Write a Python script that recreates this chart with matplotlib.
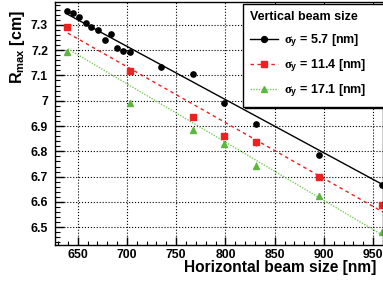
import matplotlib
matplotlib.use("Agg")
import matplotlib.pyplot as plt
from matplotlib.lines import Line2D
from matplotlib.ticker import MultipleLocator

plt.rcParams["font.family"] = ["Liberation Sans", "DejaVu Sans"]
plt.rcParams["font.weight"] = "bold"
plt.rcParams["mathtext.fontset"] = "custom"
plt.rcParams["mathtext.rm"] = "Liberation Sans:bold"
plt.rcParams["mathtext.bf"] = "Liberation Sans:bold"
plt.rcParams["mathtext.it"] = "Liberation Serif"

# horizontal beam size [nm] and R_max [cm]
x_black = [639, 645, 651, 658, 664, 671, 678, 684, 690, 696, 703, 735, 767, 799, 831, 895, 958.5]
y_black = [7.353, 7.346, 7.329, 7.309, 7.293, 7.280, 7.238, 7.262, 7.210, 7.197, 7.191,
           7.133, 7.104, 6.991, 6.909, 6.786, 6.668]
x_col = [639, 703, 767, 799, 831, 895, 958.5]
y_red = [7.291, 7.119, 6.934, 6.861, 6.835, 6.698, 6.589]
y_green = [7.192, 6.991, 6.885, 6.830, 6.744, 6.625, 6.481]
err_black = 0.005
err_red = 0.012
err_green = 0.012

# fitted lines
fit_x = [640, 960]
fit_black = [7.341, 6.668]
fit_red = [7.267, 6.560]
fit_green = [7.205, 6.468]

labels = [r"$\sigma_{\mathbf{y}}$ = 5.7 [nm]",
          r"$\sigma_{\mathbf{y}}$ = 11.4 [nm]",
          r"$\sigma_{\mathbf{y}}$ = 17.1 [nm]"]

RED = "#ee2020"
GREEN = "#5cb83c"
GREEN_LINE = "#7ccc5c"

fig = plt.figure(figsize=(3.83, 2.81), dpi=100)
ax = fig.add_axes([55 / 383, 1 - 245 / 281, 1 - 55 / 383, 243 / 281])

ax.plot(fit_x, fit_black, color="black", lw=1.0)
ax.plot(fit_x, fit_red, color=RED, lw=1.0, ls=(0, (2.5, 2.5)))
ax.plot(fit_x, fit_green, color=GREEN_LINE, lw=1.0, ls=(0, (1, 1)))

ax.errorbar(x_black, y_black, yerr=err_black, fmt="o", color="black", ms=3.8, elinewidth=0.8, capsize=0)
ax.errorbar(x_col, y_red, yerr=err_red, fmt="s", color=RED, ms=3.8, elinewidth=0.8, capsize=0)
ax.errorbar(x_col, y_green, yerr=err_green, fmt="^", color=GREEN, ms=3.8, elinewidth=0.8, capsize=0)

ax.set_xlim(627, 960)
ax.set_ylim(6.43, 7.39)
ax.xaxis.set_major_locator(MultipleLocator(50))
ax.xaxis.set_minor_locator(MultipleLocator(10))
ax.yaxis.set_minor_locator(MultipleLocator(0.02))
ax.set_yticks([6.5, 6.6, 6.7, 6.8, 6.9, 7.0, 7.1, 7.2, 7.3])
ax.set_yticklabels(["6.5", "6.6", "6.7", "6.8", "6.9", "7", "7.1", "7.2", "7.3"])
ax.tick_params(which="both", direction="in", top=False, right=False, labelsize=8.8)
ax.tick_params(axis="y", which="major", length=6.5, width=1.0, pad=5)
ax.tick_params(axis="y", which="minor", length=3.6, width=0.8)
ax.tick_params(axis="x", which="major", length=5.5, width=1.0, pad=3)
ax.tick_params(axis="x", which="minor", length=3.0, width=0.8)
ax.grid(True, which="major", color="black", ls=":", lw=0.8)
for s in ax.spines.values():
    s.set_linewidth(1.0)

ax.set_xlabel("Horizontal beam size [nm]", fontsize=11.2, fontweight="bold", loc="right")
ax.xaxis.set_label_coords(0.981, -0.063)
ax.set_ylabel(r"R$_{\mathbf{max}}$ [cm]", fontsize=11.5, fontweight="bold", loc="top")
ax.yaxis.set_label_coords(-0.085, 0.967)

handles = [
    Line2D([], [], color="black", lw=1.0, marker="o", ms=4.2),
    Line2D([], [], color=RED, lw=1.0, ls=(0, (2.5, 2.5)), marker="s", ms=4.2),
    Line2D([], [], color=GREEN_LINE, lw=1.0, ls=(0, (1, 1)), marker="^", ms=4.2,
           markerfacecolor=GREEN, markeredgecolor=GREEN),
]
leg = fig.legend(handles, labels, title="Vertical beam size", loc="upper left",
                 bbox_to_anchor=(243 / 383, 1 - 4 / 281, 170 / 383, 0.0), mode="expand",
                 prop={"size": 9, "weight": "bold"}, title_fontproperties={"size": 9, "weight": "bold"},
                 alignment="left", fancybox=False, frameon=True, borderpad=0.6,
                 handlelength=2.2, handletextpad=0.5, labelspacing=0.68, borderaxespad=0,
                 shadow={"color": "black", "alpha": 1.0, "ox": 1.2, "oy": -1.2})
leg.get_frame().set_edgecolor("black")
leg.get_frame().set_linewidth(1.0)

fig.savefig("out.png", dpi=100)
